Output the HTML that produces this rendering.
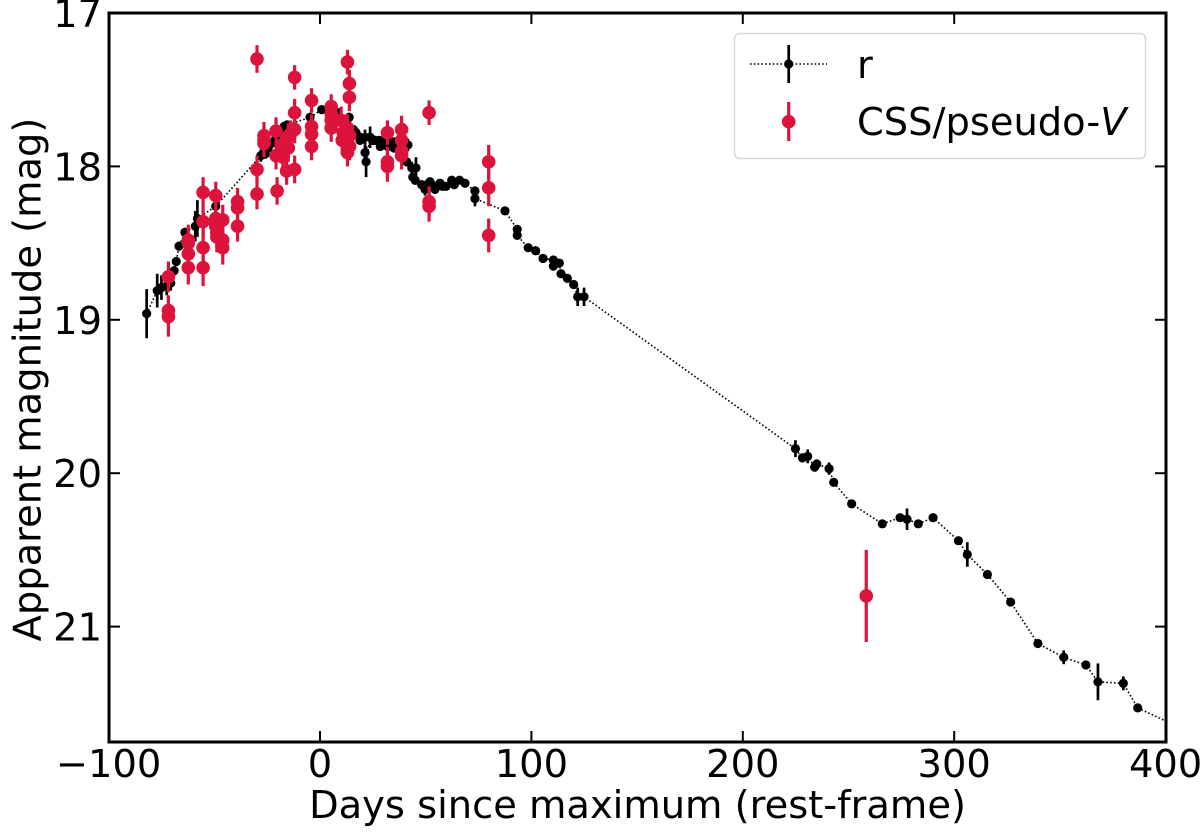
<!DOCTYPE html>
<html lang="en">
<head>
<meta charset="utf-8">
<title>Light curve</title>
<style>
html,body{margin:0;padding:0;background:#fff;width:1200px;height:838px;overflow:hidden}
svg{display:block}
text{font-family:"DejaVu Sans","Liberation Sans",sans-serif;fill:#000}
</style>
</head>
<body>
<svg id="chart" xmlns="http://www.w3.org/2000/svg" width="1200" height="838" viewBox="0 0 1200 838">
<defs><clipPath id="plot-clip"><rect x="109" y="13" width="1057" height="729"/></clipPath></defs>
<g id="series-r" clip-path="url(#plot-clip)"></g>
<g id="series-v" clip-path="url(#plot-clip)"></g>
<g id="axes"></g>
<rect x="109" y="13" width="1057" height="729" fill="none" stroke="#000" stroke-width="3"/>
<text x="637.5" y="818" font-size="38.4" text-anchor="middle">Days since maximum (rest-frame)</text>
<text transform="translate(40.7,379.5) rotate(-90)" font-size="38.4" text-anchor="middle">Apparent magnitude (mag)</text>
<g>
<rect x="734.5" y="33.5" width="411" height="125" rx="5" fill="#fff" fill-opacity="0.8" stroke="#d9d9d9" stroke-width="1.5"/>
<line x1="750" y1="64" x2="827" y2="64" stroke="#000" stroke-width="1.6" stroke-dasharray="1.6 2.2"/>
<line x1="788.7" y1="45" x2="788.7" y2="83" stroke="#000" stroke-width="2.7"/>
<circle cx="788.7" cy="64" r="4.6" fill="#000"/>
<text x="857" y="78" font-size="38.4">r</text>
<line x1="788.7" y1="102" x2="788.7" y2="141" stroke="#dc143c" stroke-width="3.2"/>
<circle cx="788.7" cy="121.7" r="6.8" fill="#dc143c"/>
<text x="857" y="135" font-size="38.4">CSS/pseudo-<tspan font-style="italic">V</tspan></text>
</g>
</svg>
<script>
const xTicks = [-100, 0, 100, 200, 300, 400];
const xTickLabels = ['\u2212100', '0', '100', '200', '300', '400'];
const yTicks = [17, 18, 19, 20, 21];
const yTickLabels = ['17', '18', '19', '20', '21'];

const rDays = [-82,-77,-75,-72.5,-70.6,-69,-68,-66.7,-63.9,-59,-58,-49.3,-28,-26,-24.5,-23,-21,-19,-17,-15.6,-4.7,0.8,8.5,13.8,15.8,17,18.9,18.9,21.3,21.3,21.8,23.7,25,26,28,28.5,29.2,30.7,32,32,33,35,35,35,36.9,38,38,39.3,41.6,41,43.4,45.4,43.9,45,48.1,49.7,50.5,52,53,54.4,56.8,58,59.6,62.3,63.5,66,68.6,73.3,73.3,87.5,93.3,93.3,98.5,102,105.5,110.4,110.4,113.2,114,117,120,121.9,124.9,224.9,228.2,230.7,234,235,240.8,243,251.5,266,274.4,277.7,283,290,302,306.2,315.7,326.7,339.6,351.8,362.3,368,380,386.8,410];
const rMags = [18.96,18.81,18.79,18.78,18.76,18.68,18.62,18.52,18.43,18.39,18.34,18.26,17.93,17.92,17.88,17.85,17.82,17.78,17.74,17.73,17.68,17.63,17.65,17.68,17.76,17.78,17.81,17.83,17.81,17.91,17.97,17.81,17.83,17.83,17.83,17.87,17.85,17.83,17.84,17.87,17.86,17.86,17.84,17.88,17.86,17.84,17.88,17.84,17.86,17.97,18.01,18.01,18.07,18.09,18.12,18.15,18.12,18.1,18.12,18.15,18.11,18.13,18.13,18.09,18.12,18.09,18.11,18.16,18.21,18.29,18.41,18.45,18.53,18.55,18.6,18.61,18.65,18.63,18.7,18.73,18.77,18.85,18.85,19.84,19.9,19.89,19.96,19.94,19.97,20.06,20.2,20.33,20.29,20.3,20.33,20.29,20.44,20.53,20.66,20.84,21.11,21.2,21.25,21.36,21.37,21.53,21.68];
const rErrs = [0.16,0.11,0.08,0.06,0.05,0.03,0.03,0.03,0.03,0.1,0.12,0.03,0.04,0.03,0.03,0.03,0.03,0.03,0.03,0.03,0.03,0.02,0.03,0.03,0.03,0.03,0.03,0.03,0.05,0.05,0.1,0.07,0.03,0.03,0.02,0.02,0.02,0.02,0.02,0.02,0.02,0.02,0.02,0.02,0.02,0.02,0.02,0.03,0.04,0.03,0.04,0.07,0.03,0.03,0.03,0.04,0.03,0.02,0.02,0.03,0.02,0.02,0.02,0.02,0.02,0.02,0.02,0.03,0.05,0.02,0.02,0.02,0.02,0.02,0.02,0.02,0.02,0.02,0.02,0.02,0.02,0.06,0.06,0.055,0.03,0.045,0.03,0.03,0.04,0.02,0.02,0.02,0.02,0.07,0.02,0.02,0.02,0.08,0.02,0.02,0.02,0.045,0.02,0.12,0.045,0.02,0.02];

const vDays = [-29.8,-12,-12,-71.7,-71.7,-71.7,-62.3,-62.3,-62.3,-62.3,-55.3,-55.3,-55.3,-55.3,-49.3,-49.3,-49.3,-48.8,-48.8,-46,-46,-46,-39,-39,-39,-29.8,-29.8,-26.5,-26.5,-26.5,-20.3,-20.8,-20.8,-15,-15.8,-12,-12,-15,-17.5,-18,-14,-4,-4,-4,-4,5.3,5.3,5.3,5.3,10,10.5,11,12,12,12.5,13,13,14,14,13,13.9,13.9,31.9,31.9,31.9,38.6,38.6,38.6,38.6,51.6,51.6,51.6,79.8,79.8,79.8,258.4];
const vMags = [17.30,17.42,17.65,18.72,18.94,18.98,18.48,18.5,18.57,18.66,18.17,18.36,18.53,18.66,18.19,18.34,18.39,18.43,18.46,18.35,18.48,18.53,18.23,18.27,18.39,18.02,18.18,17.8,17.83,17.85,18.16,17.77,17.93,17.88,18.03,18.02,17.76,17.81,17.94,17.86,17.79,17.57,17.74,17.79,17.87,17.61,17.66,17.7,17.75,17.7,17.83,17.78,17.77,17.82,17.85,17.91,17.75,17.8,17.87,17.32,17.46,17.55,17.78,17.97,18.0,17.76,17.83,17.9,17.93,17.65,18.23,18.26,17.97,18.14,18.45,20.80];
const vErrs = [0.09,0.08,0.09,0.1,0.1,0.13,0.1,0.1,0.1,0.11,0.1,0.1,0.12,0.12,0.09,0.12,0.11,0.1,0.1,0.1,0.1,0.11,0.09,0.09,0.1,0.09,0.1,0.09,0.09,0.09,0.09,0.09,0.09,0.09,0.09,0.09,0.09,0.09,0.09,0.09,0.09,0.08,0.08,0.08,0.09,0.08,0.08,0.08,0.09,0.09,0.09,0.09,0.09,0.09,0.09,0.09,0.09,0.09,0.09,0.08,0.09,0.09,0.08,0.1,0.1,0.09,0.09,0.09,0.09,0.08,0.1,0.1,0.11,0.12,0.11,0.3];

const NS = 'http://www.w3.org/2000/svg';
function xScale(d){ return 320 + d * 2.114; }
function yScale(m){ return 13 + (m - 17) * 153.4; }
function make(tag, parent, attrs){
  const el = document.createElementNS(NS, tag);
  for (const k in attrs) el.setAttribute(k, attrs[k]);
  parent.appendChild(el);
  return el;
}

const rGroup = document.getElementById('series-r');
const vGroup = document.getElementById('series-v');
const axes = document.getElementById('axes');

const rLine = make('polyline', rGroup, {
  points: rDays.map((d, i) => xScale(d).toFixed(1) + ',' + yScale(rMags[i]).toFixed(1)).join(' '),
  fill: 'none', stroke: '#000', 'stroke-width': 1.6, 'stroke-dasharray': '1.6 2.2'
});



rDays.forEach((d, i) => {
  const bar = make('line', rGroup, {
    x1: xScale(d), x2: xScale(d),
    y1: yScale(rMags[i] - rErrs[i]), y2: yScale(rMags[i] + rErrs[i]),
    stroke: '#000', 'stroke-width': 2.7
  });
  
  
  const pt = make('circle', rGroup, { cx: xScale(d), cy: yScale(rMags[i]), r: 4.6, fill: '#000' });
  
  
});

vDays.forEach((d, i) => {
  const bar = make('line', vGroup, {
    x1: xScale(d), x2: xScale(d),
    y1: yScale(vMags[i] - vErrs[i]), y2: yScale(vMags[i] + vErrs[i]),
    stroke: '#dc143c', 'stroke-width': 3.2
  });
  
  
  const pt = make('circle', vGroup, { cx: xScale(d), cy: yScale(vMags[i]), r: 6.8, fill: '#dc143c' });
  
  
});

xTicks.forEach((t, i) => {
  const x = xScale(t);
  const bottom = make('line', axes, { x1: x, x2: x, y1: 742, y2: 731, stroke: '#000', 'stroke-width': 2 });
  
  
  const top = make('line', axes, { x1: x, x2: x, y1: 13, y2: 24, stroke: '#000', 'stroke-width': 2 });
  
  
  const label = make('text', axes, { x: x, y: 777, 'font-size': 38.4, 'text-anchor': 'middle' });
  label.textContent = xTickLabels[i];
  
  
});

yTicks.forEach((t, i) => {
  const y = yScale(t);
  const left = make('line', axes, { x1: 109, x2: 120, y1: y, y2: y, stroke: '#000', 'stroke-width': 2 });
  
  
  const right = make('line', axes, { x1: 1166, x2: 1155, y1: y, y2: y, stroke: '#000', 'stroke-width': 2 });
  
  
  const label = make('text', axes, { x: 102, y: y + 14, 'font-size': 38.4, 'text-anchor': 'end' });
  label.textContent = yTickLabels[i];
  
  
});
</script>
</body>
</html>
